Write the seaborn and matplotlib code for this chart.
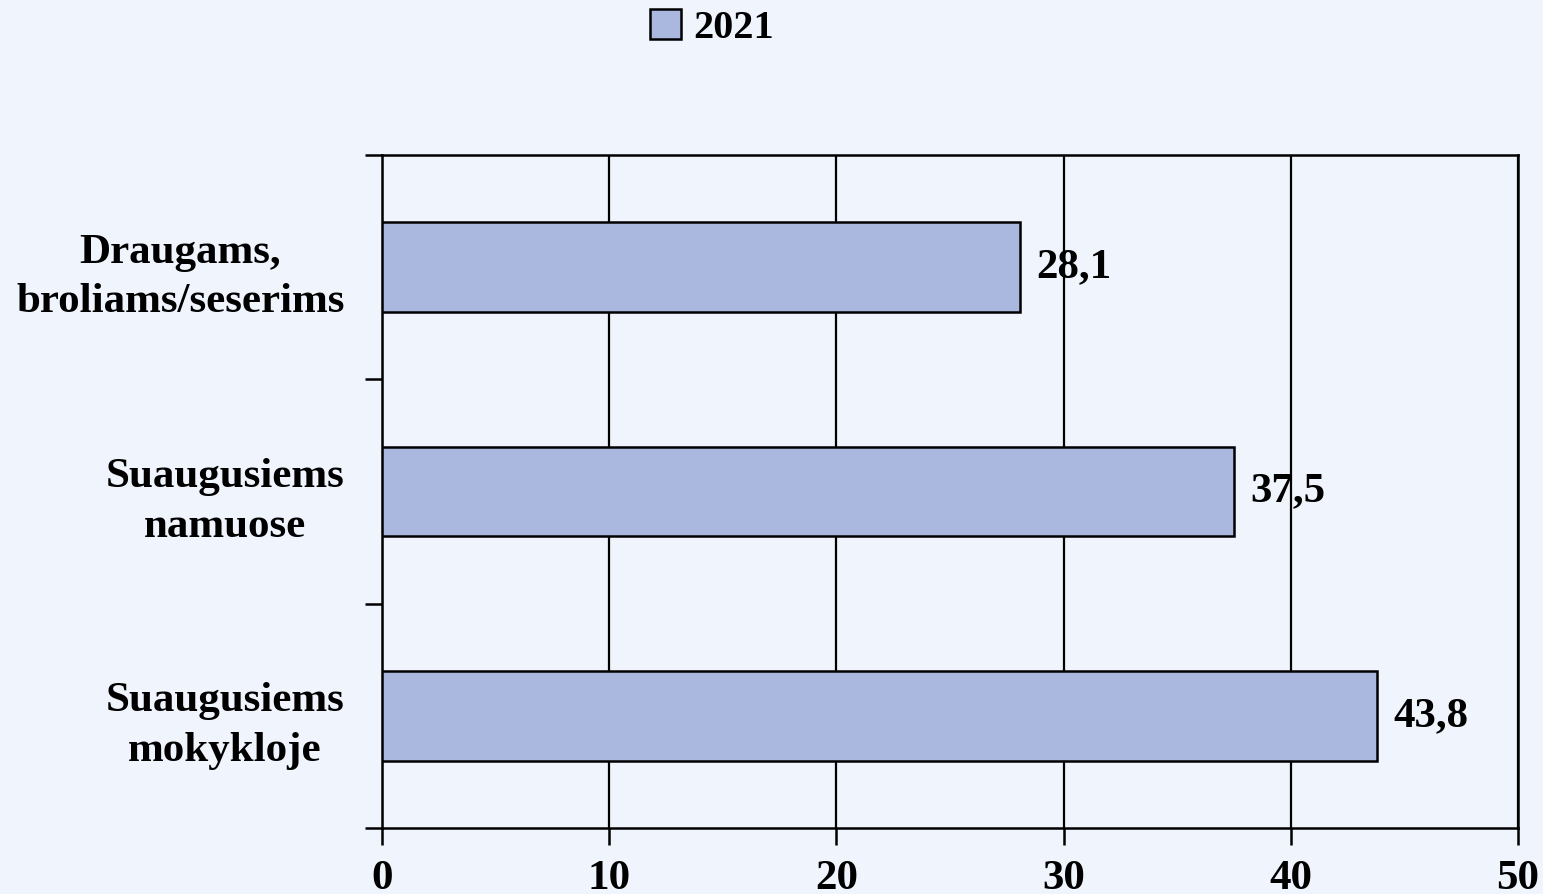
import matplotlib
matplotlib.use("Agg")
import matplotlib.pyplot as plt
import seaborn as sns
import pandas as pd
import numpy as np
from matplotlib.patches import Patch

categories = ["Draugams,\nbroliams/seserims", "Suaugusiems\nnamuose", "Suaugusiems\nmokykloje"]
values_2021 = [28.1, 37.5, 43.8]
value_labels = ["28,1", "37,5", "43,8"]
x_ticks = [0, 10, 20, 30, 40, 50]
series_name = "2021"

bg = "#F0F4FC"
bar_color = "#AAB8E0"

sns.set_theme(style="white")
plt.rcParams["font.family"] = ["Liberation Serif", "DejaVu Serif"]
plt.rcParams["font.weight"] = "bold"
plt.rcParams["text.color"] = "black"
plt.rcParams["xtick.color"] = "black"
plt.rcParams["ytick.color"] = "black"

fig = plt.figure(figsize=(15.43, 8.94), dpi=100, facecolor=bg)
ax = fig.add_axes([382/1543, 1-828/894, (1518-382)/1543, (828-155)/894])
ax.set_facecolor(bg)

df = pd.DataFrame({"cat": categories, "val": values_2021})
sns.barplot(data=df, y="cat", x="val", orient="h", color=bar_color, width=0.4,
            edgecolor="black", linewidth=1.8, saturation=1, ax=ax, zorder=3)

ax.set_xlim(0, 50)
ax.set_ylim(2.5, -0.5)
ax.set_xticks(x_ticks)
ax.set_xticklabels([str(t) for t in x_ticks], fontsize=31, fontweight="bold", color="black")
ax.xaxis.grid(True, color="black", linewidth=1.6, zorder=0)
ax.set_axisbelow(True)
ax.set_xlabel("")
ax.set_ylabel("")

ax.set_yticks(range(len(categories)))
ax.set_yticklabels(categories, fontsize=31, fontweight="bold", linespacing=1.4,
                   color="black", multialignment="center")
ax.tick_params(axis="y", which="major", length=0, pad=27)
ax.set_yticks([-0.5, 0.5, 1.5, 2.5], minor=True)
ax.tick_params(axis="y", which="minor", length=12, width=1.8, color="black", direction="out", left=True)
ax.tick_params(axis="x", which="major", length=12, width=1.8, color="black", direction="out", bottom=True, pad=11)

for s in ["left", "bottom", "top", "right"]:
    ax.spines[s].set_visible(True)
    ax.spines[s].set_color("black")
    ax.spines[s].set_linewidth(1.8)

for i, (v, lbl) in enumerate(zip(values_2021, value_labels)):
    ax.annotate(lbl, xy=(v, i), xytext=(16, 0), textcoords="offset pixels",
                ha="left", va="center", fontsize=31, fontweight="bold", color="black", zorder=5)

handle = Patch(facecolor=bar_color, edgecolor="black", linewidth=1.8)
fig.legend([handle], [series_name], loc="center", bbox_to_anchor=(712/1543, 1-28/894),
           frameon=False, prop={"weight": "bold", "size": 29},
           handlelength=0.75, handleheight=0.75, handletextpad=0.3)

fig.savefig("out.png", dpi=100, facecolor=bg)
